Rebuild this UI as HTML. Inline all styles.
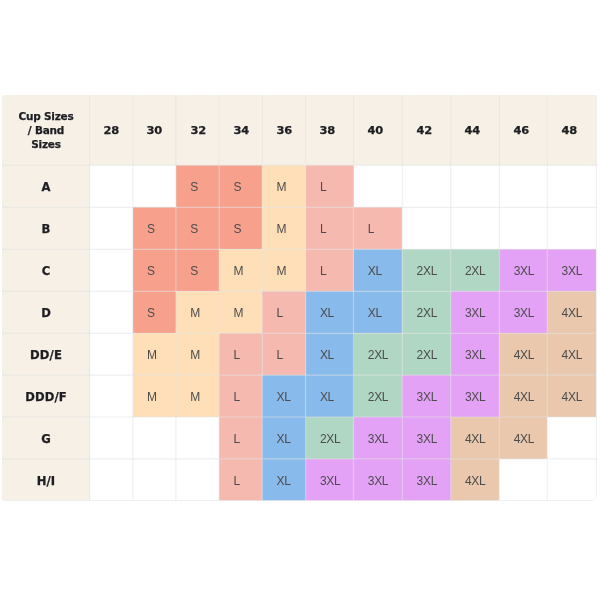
<!DOCTYPE html><html><head><meta charset="utf-8"><title>Size chart</title><style>
html,body{margin:0;padding:0;background:#fff;}
body{width:600px;height:600px;position:relative;overflow:hidden;font-family:"Liberation Sans",sans-serif;}
#t{filter:blur(0.4px);position:absolute;left:2px;top:95px;width:595px;height:406px;border-radius:3px 2px 5px 3px;overflow:hidden;background:#fff;}
#g{position:absolute;left:0;top:0;}
.c{position:absolute;box-sizing:border-box;display:flex;align-items:center;font-size:12px;color:#4c4c4c;padding-top:1.6px;letter-spacing:-0.3px;}
.h{background:#f6f0e6;font-weight:bold;color:#1e1e22;-webkit-text-stroke:0.25px #1e1e22;padding-top:0;padding-bottom:1px;font-family:"DejaVu Sans","Liberation Sans",sans-serif;font-size:10.5px;}
.hn{padding-bottom:0;}
.hn span{display:inline-block;transform:translate(0.6px,0.4px) scaleX(1.09);transform-origin:0 50%;}
.r{justify-content:center;padding-left:0;text-align:center;line-height:14px;}
.hc{letter-spacing:-0.2px;}
.rl{font-size:11.6px;letter-spacing:0.1px;padding-top:1px;padding-bottom:0;}
.e{background:#fff}
.s{background:#f7a18d}
.m{background:#fedfb7}
.l{background:#f6b9af}
.xl{background:#88baeb}
.x2{background:#afd7c4}
.x3{background:#e4a2f6}
.x4{background:#e9c8ad}
</style></head><body><div id="t">
<div class="c h r hc" style="left:0px;top:0px;width:88px;height:70px"><span>Cup Sizes<br>/ Band<br>Sizes</span></div>
<div class="c h hn" style="left:88px;top:0px;width:43px;height:70px;padding-left:13.2px"><span>28</span></div>
<div class="c h hn" style="left:131px;top:0px;width:43px;height:70px;padding-left:13.4px"><span>30</span></div>
<div class="c h hn" style="left:174px;top:0px;width:43px;height:70px;padding-left:13.5px"><span>32</span></div>
<div class="c h hn" style="left:217px;top:0px;width:43px;height:70px;padding-left:13.8px"><span>34</span></div>
<div class="c h hn" style="left:260px;top:0px;width:44px;height:70px;padding-left:13.9px"><span>36</span></div>
<div class="c h hn" style="left:304px;top:0px;width:48px;height:70px;padding-left:13.2px"><span>38</span></div>
<div class="c h hn" style="left:352px;top:0px;width:48px;height:70px;padding-left:13.1px"><span>40</span></div>
<div class="c h hn" style="left:400px;top:0px;width:49px;height:70px;padding-left:13.9px"><span>42</span></div>
<div class="c h hn" style="left:449px;top:0px;width:48px;height:70px;padding-left:13.3px"><span>44</span></div>
<div class="c h hn" style="left:497px;top:0px;width:48px;height:70px;padding-left:14.0px"><span>46</span></div>
<div class="c h hn" style="left:545px;top:0px;width:49px;height:70px;padding-left:13.9px"><span>48</span></div>
<div class="c h r rl" style="left:0px;top:70px;width:88px;height:42px"><span>A</span></div>
<div class="c e" style="left:88px;top:70px;width:43px;height:42px;padding-left:13.9px"></div>
<div class="c e" style="left:131px;top:70px;width:43px;height:42px;padding-left:14.1px"></div>
<div class="c s" style="left:174px;top:70px;width:43px;height:42px;padding-left:14.2px">S</div>
<div class="c s" style="left:217px;top:70px;width:43px;height:42px;padding-left:14.5px">S</div>
<div class="c m" style="left:260px;top:70px;width:44px;height:42px;padding-left:14.6px">M</div>
<div class="c l" style="left:304px;top:70px;width:48px;height:42px;padding-left:13.9px">L</div>
<div class="c e" style="left:352px;top:70px;width:48px;height:42px;padding-left:13.8px"></div>
<div class="c e" style="left:400px;top:70px;width:49px;height:42px;padding-left:14.6px"></div>
<div class="c e" style="left:449px;top:70px;width:48px;height:42px;padding-left:14.0px"></div>
<div class="c e" style="left:497px;top:70px;width:48px;height:42px;padding-left:14.7px"></div>
<div class="c e" style="left:545px;top:70px;width:49px;height:42px;padding-left:14.6px"></div>
<div class="c h r rl" style="left:0px;top:112px;width:88px;height:42px"><span>B</span></div>
<div class="c e" style="left:88px;top:112px;width:43px;height:42px;padding-left:13.9px"></div>
<div class="c s" style="left:131px;top:112px;width:43px;height:42px;padding-left:14.1px">S</div>
<div class="c s" style="left:174px;top:112px;width:43px;height:42px;padding-left:14.2px">S</div>
<div class="c s" style="left:217px;top:112px;width:43px;height:42px;padding-left:14.5px">S</div>
<div class="c m" style="left:260px;top:112px;width:44px;height:42px;padding-left:14.6px">M</div>
<div class="c l" style="left:304px;top:112px;width:48px;height:42px;padding-left:13.9px">L</div>
<div class="c l" style="left:352px;top:112px;width:48px;height:42px;padding-left:13.8px">L</div>
<div class="c e" style="left:400px;top:112px;width:49px;height:42px;padding-left:14.6px"></div>
<div class="c e" style="left:449px;top:112px;width:48px;height:42px;padding-left:14.0px"></div>
<div class="c e" style="left:497px;top:112px;width:48px;height:42px;padding-left:14.7px"></div>
<div class="c e" style="left:545px;top:112px;width:49px;height:42px;padding-left:14.6px"></div>
<div class="c h r rl" style="left:0px;top:154px;width:88px;height:42px"><span>C</span></div>
<div class="c e" style="left:88px;top:154px;width:43px;height:42px;padding-left:13.9px"></div>
<div class="c s" style="left:131px;top:154px;width:43px;height:42px;padding-left:14.1px">S</div>
<div class="c s" style="left:174px;top:154px;width:43px;height:42px;padding-left:14.2px">S</div>
<div class="c m" style="left:217px;top:154px;width:43px;height:42px;padding-left:14.5px">M</div>
<div class="c m" style="left:260px;top:154px;width:44px;height:42px;padding-left:14.6px">M</div>
<div class="c l" style="left:304px;top:154px;width:48px;height:42px;padding-left:13.9px">L</div>
<div class="c xl" style="left:352px;top:154px;width:48px;height:42px;padding-left:13.8px">XL</div>
<div class="c x2" style="left:400px;top:154px;width:49px;height:42px;padding-left:14.6px">2XL</div>
<div class="c x2" style="left:449px;top:154px;width:48px;height:42px;padding-left:14.0px">2XL</div>
<div class="c x3" style="left:497px;top:154px;width:48px;height:42px;padding-left:14.7px">3XL</div>
<div class="c x3" style="left:545px;top:154px;width:49px;height:42px;padding-left:14.6px">3XL</div>
<div class="c h r rl" style="left:0px;top:196px;width:88px;height:42px"><span>D</span></div>
<div class="c e" style="left:88px;top:196px;width:43px;height:42px;padding-left:13.9px"></div>
<div class="c s" style="left:131px;top:196px;width:43px;height:42px;padding-left:14.1px">S</div>
<div class="c m" style="left:174px;top:196px;width:43px;height:42px;padding-left:14.2px">M</div>
<div class="c m" style="left:217px;top:196px;width:43px;height:42px;padding-left:14.5px">M</div>
<div class="c l" style="left:260px;top:196px;width:44px;height:42px;padding-left:14.6px">L</div>
<div class="c xl" style="left:304px;top:196px;width:48px;height:42px;padding-left:13.9px">XL</div>
<div class="c xl" style="left:352px;top:196px;width:48px;height:42px;padding-left:13.8px">XL</div>
<div class="c x2" style="left:400px;top:196px;width:49px;height:42px;padding-left:14.6px">2XL</div>
<div class="c x3" style="left:449px;top:196px;width:48px;height:42px;padding-left:14.0px">3XL</div>
<div class="c x3" style="left:497px;top:196px;width:48px;height:42px;padding-left:14.7px">3XL</div>
<div class="c x4" style="left:545px;top:196px;width:49px;height:42px;padding-left:14.6px">4XL</div>
<div class="c h r rl" style="left:0px;top:238px;width:88px;height:42px"><span>DD/E</span></div>
<div class="c e" style="left:88px;top:238px;width:43px;height:42px;padding-left:13.9px"></div>
<div class="c m" style="left:131px;top:238px;width:43px;height:42px;padding-left:14.1px">M</div>
<div class="c m" style="left:174px;top:238px;width:43px;height:42px;padding-left:14.2px">M</div>
<div class="c l" style="left:217px;top:238px;width:43px;height:42px;padding-left:14.5px">L</div>
<div class="c l" style="left:260px;top:238px;width:44px;height:42px;padding-left:14.6px">L</div>
<div class="c xl" style="left:304px;top:238px;width:48px;height:42px;padding-left:13.9px">XL</div>
<div class="c x2" style="left:352px;top:238px;width:48px;height:42px;padding-left:13.8px">2XL</div>
<div class="c x2" style="left:400px;top:238px;width:49px;height:42px;padding-left:14.6px">2XL</div>
<div class="c x3" style="left:449px;top:238px;width:48px;height:42px;padding-left:14.0px">3XL</div>
<div class="c x4" style="left:497px;top:238px;width:48px;height:42px;padding-left:14.7px">4XL</div>
<div class="c x4" style="left:545px;top:238px;width:49px;height:42px;padding-left:14.6px">4XL</div>
<div class="c h r rl" style="left:0px;top:280px;width:88px;height:42px"><span>DDD/F</span></div>
<div class="c e" style="left:88px;top:280px;width:43px;height:42px;padding-left:13.9px"></div>
<div class="c m" style="left:131px;top:280px;width:43px;height:42px;padding-left:14.1px">M</div>
<div class="c m" style="left:174px;top:280px;width:43px;height:42px;padding-left:14.2px">M</div>
<div class="c l" style="left:217px;top:280px;width:43px;height:42px;padding-left:14.5px">L</div>
<div class="c xl" style="left:260px;top:280px;width:44px;height:42px;padding-left:14.6px">XL</div>
<div class="c xl" style="left:304px;top:280px;width:48px;height:42px;padding-left:13.9px">XL</div>
<div class="c x2" style="left:352px;top:280px;width:48px;height:42px;padding-left:13.8px">2XL</div>
<div class="c x3" style="left:400px;top:280px;width:49px;height:42px;padding-left:14.6px">3XL</div>
<div class="c x3" style="left:449px;top:280px;width:48px;height:42px;padding-left:14.0px">3XL</div>
<div class="c x4" style="left:497px;top:280px;width:48px;height:42px;padding-left:14.7px">4XL</div>
<div class="c x4" style="left:545px;top:280px;width:49px;height:42px;padding-left:14.6px">4XL</div>
<div class="c h r rl" style="left:0px;top:322px;width:88px;height:42px"><span>G</span></div>
<div class="c e" style="left:88px;top:322px;width:43px;height:42px;padding-left:13.9px"></div>
<div class="c e" style="left:131px;top:322px;width:43px;height:42px;padding-left:14.1px"></div>
<div class="c e" style="left:174px;top:322px;width:43px;height:42px;padding-left:14.2px"></div>
<div class="c l" style="left:217px;top:322px;width:43px;height:42px;padding-left:14.5px">L</div>
<div class="c xl" style="left:260px;top:322px;width:44px;height:42px;padding-left:14.6px">XL</div>
<div class="c x2" style="left:304px;top:322px;width:48px;height:42px;padding-left:13.9px">2XL</div>
<div class="c x3" style="left:352px;top:322px;width:48px;height:42px;padding-left:13.8px">3XL</div>
<div class="c x3" style="left:400px;top:322px;width:49px;height:42px;padding-left:14.6px">3XL</div>
<div class="c x4" style="left:449px;top:322px;width:48px;height:42px;padding-left:14.0px">4XL</div>
<div class="c x4" style="left:497px;top:322px;width:48px;height:42px;padding-left:14.7px">4XL</div>
<div class="c e" style="left:545px;top:322px;width:49px;height:42px;padding-left:14.6px"></div>
<div class="c h r rl" style="left:0px;top:364px;width:88px;height:42px"><span>H/I</span></div>
<div class="c e" style="left:88px;top:364px;width:43px;height:42px;padding-left:13.9px"></div>
<div class="c e" style="left:131px;top:364px;width:43px;height:42px;padding-left:14.1px"></div>
<div class="c e" style="left:174px;top:364px;width:43px;height:42px;padding-left:14.2px"></div>
<div class="c l" style="left:217px;top:364px;width:43px;height:42px;padding-left:14.5px">L</div>
<div class="c xl" style="left:260px;top:364px;width:44px;height:42px;padding-left:14.6px">XL</div>
<div class="c x3" style="left:304px;top:364px;width:48px;height:42px;padding-left:13.9px">3XL</div>
<div class="c x3" style="left:352px;top:364px;width:48px;height:42px;padding-left:13.8px">3XL</div>
<div class="c x3" style="left:400px;top:364px;width:49px;height:42px;padding-left:14.6px">3XL</div>
<div class="c x4" style="left:449px;top:364px;width:48px;height:42px;padding-left:14.0px">4XL</div>
<div class="c e" style="left:497px;top:364px;width:48px;height:42px;padding-left:14.7px"></div>
<div class="c e" style="left:545px;top:364px;width:49px;height:42px;padding-left:14.6px"></div>
<svg id="g" width="595" height="406" viewBox="0 0 595 406"><rect x="0" y="405" width="595" height="1" fill="#fff" fill-opacity="0.5"/><g stroke="#e4e4e4" stroke-opacity="0.55" stroke-width="1.2" fill="none"><line x1="87.6" y1="0" x2="87.6" y2="406"/><line x1="130.8" y1="0" x2="130.8" y2="406"/><line x1="173.9" y1="0" x2="173.9" y2="406"/><line x1="217.2" y1="0" x2="217.2" y2="406"/><line x1="260.3" y1="0" x2="260.3" y2="406"/><line x1="303.6" y1="0" x2="303.6" y2="406"/><line x1="351.5" y1="0" x2="351.5" y2="406"/><line x1="400.3" y1="0" x2="400.3" y2="406"/><line x1="448.7" y1="0" x2="448.7" y2="406"/><line x1="497.4" y1="0" x2="497.4" y2="406"/><line x1="545.3" y1="0" x2="545.3" y2="406"/><line x1="0" y1="70.3" x2="595" y2="70.3"/><line x1="0" y1="112.4" x2="595" y2="112.4"/><line x1="0" y1="154.4" x2="595" y2="154.4"/><line x1="0" y1="196.4" x2="595" y2="196.4"/><line x1="0" y1="238.3" x2="595" y2="238.3"/><line x1="0" y1="280.2" x2="595" y2="280.2"/><line x1="0" y1="322.0" x2="595" y2="322.0"/><line x1="0" y1="363.8" x2="595" y2="363.8"/><rect x="-10" y="-10" width="604.5" height="415.7" rx="4.5"/></g></svg>
</div></body></html>
